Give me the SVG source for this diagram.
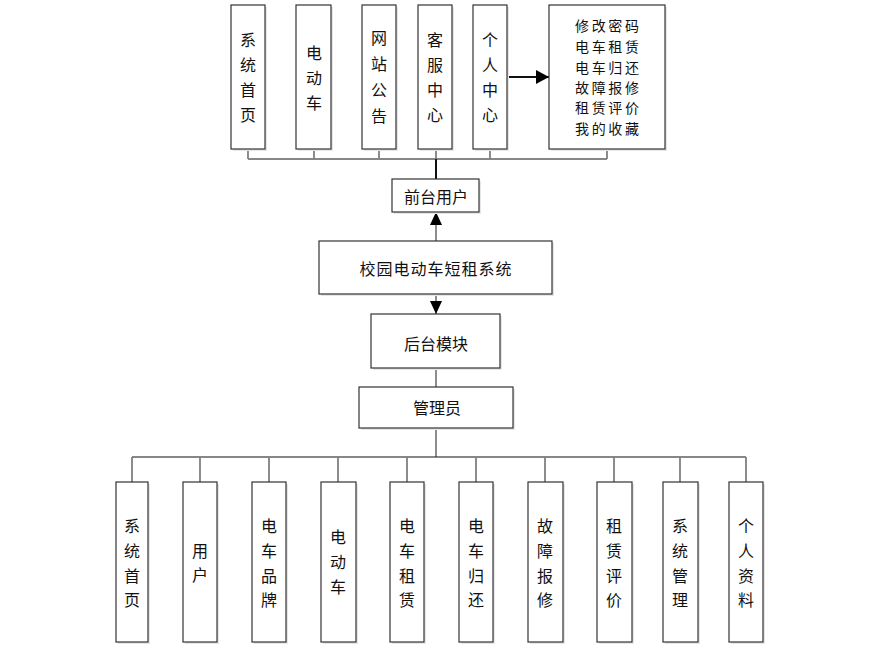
<svg xmlns="http://www.w3.org/2000/svg" width="880" height="653" viewBox="0 0 880 653">
<defs>
<style>
.box{fill:#ffffff;stroke:#333333;stroke-width:1.2}
.sh{fill:#e6e6e6}
.t{font-family:"Noto Sans CJK SC","Noto Sans CJK JP",sans-serif;font-size:16px;fill:#111111;text-anchor:middle;dominant-baseline:central}
.tl{font-family:"Noto Sans CJK SC","Noto Sans CJK JP",sans-serif;font-size:14px;letter-spacing:2.6px;fill:#111111;text-anchor:middle;dominant-baseline:central}
.bus{stroke:#111111;stroke-width:1.2;fill:none}
.drop{stroke:#808080;stroke-width:1.8;fill:none}
.thick{stroke:#111111;stroke-width:2;fill:none}
.thin{stroke:#444444;stroke-width:1.2;fill:none}
</style>
<marker id="ah" viewBox="0 0 13 12" refX="13" refY="6" markerWidth="13" markerHeight="12" markerUnits="userSpaceOnUse" orient="auto">
<path d="M0,0 L13,6 L0,12 Z" fill="#000000"/>
</marker>
<marker id="ahb" viewBox="0 0 13 14" refX="13" refY="7" markerWidth="13" markerHeight="14" markerUnits="userSpaceOnUse" orient="auto">
<path d="M0,0 L13,7 L0,14 Z" fill="#000000"/>
</marker>
</defs>
<rect width="880" height="653" fill="#ffffff"/>

<g id="connectors">
<line class="bus" x1="248" y1="159" x2="607" y2="159"/>
<line class="drop" x1="248" y1="149" x2="248" y2="159"/>
<line class="drop" x1="314" y1="149" x2="314" y2="159"/>
<line class="drop" x1="379" y1="149" x2="379" y2="159"/>
<line class="drop" x1="436" y1="149" x2="436" y2="159"/>
<line class="drop" x1="490" y1="149" x2="490" y2="159"/>
<line class="drop" x1="607" y1="149" x2="607" y2="159"/>
<line class="thick" x1="436" y1="159" x2="436" y2="179"/>
<line class="thick" x1="507" y1="77" x2="549" y2="77" marker-end="url(#ahb)"/>
<line class="thin" x1="436" y1="241" x2="436" y2="212" marker-end="url(#ah)"/>
<line class="thin" x1="436" y1="294" x2="436" y2="314" marker-end="url(#ah)"/>
<line class="thin" x1="436" y1="368" x2="436" y2="387"/>
<line class="thin" x1="436" y1="428" x2="436" y2="457"/>
<line class="bus" x1="132" y1="457" x2="746" y2="457"/>
<line class="drop" x1="132" y1="457" x2="132" y2="482"/>
<line class="drop" x1="200" y1="457" x2="200" y2="482"/>
<line class="drop" x1="269" y1="457" x2="269" y2="482"/>
<line class="drop" x1="338" y1="457" x2="338" y2="482"/>
<line class="drop" x1="407" y1="457" x2="407" y2="482"/>
<line class="drop" x1="476" y1="457" x2="476" y2="482"/>
<line class="drop" x1="545" y1="457" x2="545" y2="482"/>
<line class="drop" x1="614" y1="457" x2="614" y2="482"/>
<line class="drop" x1="680" y1="457" x2="680" y2="482"/>
<line class="drop" x1="746" y1="457" x2="746" y2="482"/>
</g>

<g id="top-home"><rect class="sh" x="233" y="7" width="34" height="144"/><rect class="box" x="231" y="5" width="34" height="144"/>
<text class="t" x="248" y="39">系</text><text class="t" x="248" y="64">统</text><text class="t" x="248" y="89">首</text><text class="t" x="248" y="114">页</text></g>
<g id="top-ebike"><rect class="sh" x="298" y="7" width="35" height="144"/><rect class="box" x="296" y="5" width="35" height="144"/>
<text class="t" x="314" y="52">电</text><text class="t" x="314" y="77">动</text><text class="t" x="314" y="102">车</text></g>
<g id="top-notice"><rect class="sh" x="364" y="7" width="34" height="144"/><rect class="box" x="362" y="5" width="34" height="144"/>
<text class="t" x="379" y="37">网</text><text class="t" x="379" y="63">站</text><text class="t" x="379" y="89">公</text><text class="t" x="379" y="115">告</text></g>
<g id="top-service"><rect class="sh" x="420" y="7" width="34" height="144"/><rect class="box" x="418" y="5" width="34" height="144"/>
<text class="t" x="435" y="39">客</text><text class="t" x="435" y="64">服</text><text class="t" x="435" y="89">中</text><text class="t" x="435" y="114">心</text></g>
<g id="top-personal"><rect class="sh" x="475" y="7" width="34" height="144"/><rect class="box" x="473" y="5" width="34" height="144"/>
<text class="t" x="490" y="39">个</text><text class="t" x="490" y="64">人</text><text class="t" x="490" y="89">中</text><text class="t" x="490" y="114">心</text></g>
<g id="top-functions"><rect class="sh" x="551" y="7" width="116" height="144"/><rect class="box" x="549" y="5" width="116" height="144"/>
<text class="tl" x="608.3" y="25">修改密码</text><text class="tl" x="608.3" y="46">电车租赁</text><text class="tl" x="608.3" y="67">电车归还</text><text class="tl" x="608.3" y="87">故障报修</text><text class="tl" x="608.3" y="107">租赁评价</text><text class="tl" x="608.3" y="128">我的收藏</text></g>

<g id="front-user"><rect class="sh" x="394" y="181" width="87" height="33"/><rect class="box" x="392" y="179" width="87" height="33"/>
<text class="t" x="436" y="196">前台用户</text></g>
<g id="system"><rect class="sh" x="321" y="243" width="233" height="53"/><rect class="box" x="319" y="241" width="233" height="53"/>
<text class="t" x="436" y="268" letter-spacing="1">校园电动车短租系统</text></g>
<g id="backend"><rect class="sh" x="373" y="316" width="129" height="54"/><rect class="box" x="371" y="314" width="129" height="54"/>
<text class="t" x="436" y="343">后台模块</text></g>
<g id="admin"><rect class="sh" x="361" y="389" width="154" height="41"/><rect class="box" x="359" y="387" width="154" height="41"/>
<text class="t" x="437" y="407">管理员</text></g>

<g id="b-home"><rect class="sh" x="118" y="484" width="32" height="160"/><rect class="box" x="116" y="482" width="32" height="160"/>
<text class="t" x="132" y="525">系</text><text class="t" x="132" y="550">统</text><text class="t" x="132" y="575">首</text><text class="t" x="132" y="599">页</text></g>
<g id="b-user"><rect class="sh" x="185" y="484" width="34" height="160"/><rect class="box" x="183" y="482" width="34" height="160"/>
<text class="t" x="200" y="550">用</text><text class="t" x="200" y="574">户</text></g>
<g id="b-brand"><rect class="sh" x="254" y="484" width="34" height="160"/><rect class="box" x="252" y="482" width="34" height="160"/>
<text class="t" x="269" y="525">电</text><text class="t" x="269" y="550">车</text><text class="t" x="269" y="575">品</text><text class="t" x="269" y="599">牌</text></g>
<g id="b-ebike"><rect class="sh" x="323" y="484" width="35" height="160"/><rect class="box" x="321" y="482" width="35" height="160"/>
<text class="t" x="338" y="536">电</text><text class="t" x="338" y="561">动</text><text class="t" x="338" y="586">车</text></g>
<g id="b-rent"><rect class="sh" x="392" y="484" width="34" height="160"/><rect class="box" x="390" y="482" width="34" height="160"/>
<text class="t" x="407" y="525">电</text><text class="t" x="407" y="550">车</text><text class="t" x="407" y="575">租</text><text class="t" x="407" y="599">赁</text></g>
<g id="b-return"><rect class="sh" x="461" y="484" width="34" height="160"/><rect class="box" x="459" y="482" width="34" height="160"/>
<text class="t" x="476" y="525">电</text><text class="t" x="476" y="550">车</text><text class="t" x="476" y="575">归</text><text class="t" x="476" y="599">还</text></g>
<g id="b-repair"><rect class="sh" x="530" y="484" width="35" height="160"/><rect class="box" x="528" y="482" width="35" height="160"/>
<text class="t" x="545" y="525">故</text><text class="t" x="545" y="550">障</text><text class="t" x="545" y="575">报</text><text class="t" x="545" y="599">修</text></g>
<g id="b-review"><rect class="sh" x="599" y="484" width="35" height="160"/><rect class="box" x="597" y="482" width="35" height="160"/>
<text class="t" x="614" y="525">租</text><text class="t" x="614" y="550">赁</text><text class="t" x="614" y="575">评</text><text class="t" x="614" y="599">价</text></g>
<g id="b-sysmgr"><rect class="sh" x="665" y="484" width="35" height="160"/><rect class="box" x="663" y="482" width="35" height="160"/>
<text class="t" x="680" y="525">系</text><text class="t" x="680" y="550">统</text><text class="t" x="680" y="575">管</text><text class="t" x="680" y="599">理</text></g>
<g id="b-profile"><rect class="sh" x="731" y="484" width="34" height="160"/><rect class="box" x="729" y="482" width="34" height="160"/>
<text class="t" x="746" y="525">个</text><text class="t" x="746" y="550">人</text><text class="t" x="746" y="575">资</text><text class="t" x="746" y="599">料</text></g>
</svg>
